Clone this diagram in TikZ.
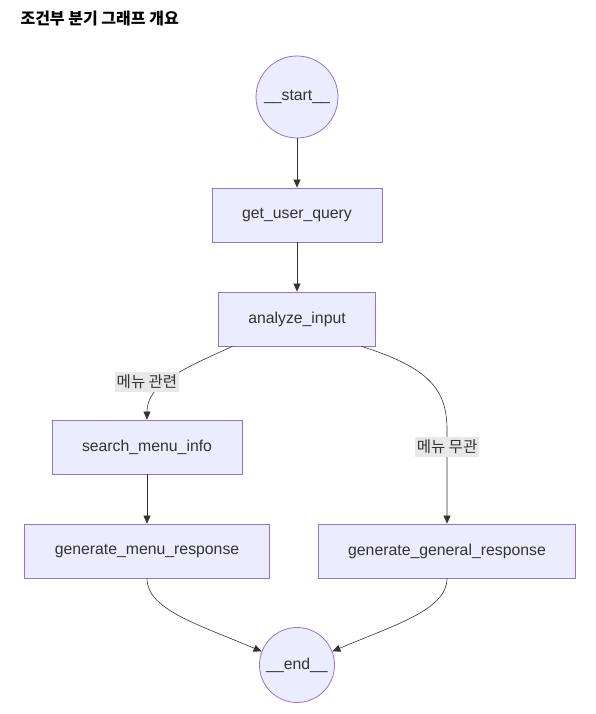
\documentclass[tikz,border=0pt]{standalone}
\usepackage{fontspec}
\setmainfont{Liberation Sans}
\newfontfamily\kr{Noto Sans CJK KR}
\usepackage{tikz}
\usetikzlibrary{arrows.meta}
\definecolor{nodefill}{HTML}{ECECFF}
\definecolor{nodeline}{HTML}{9370DB}
\definecolor{edgeline}{HTML}{333333}
\definecolor{labelbg}{HTML}{E8E8E8}

\begin{document}
\begin{tikzpicture}[x=1pt, y=-1pt, >={Triangle[length=8pt, width=7pt]},
    every node/.style={text=edgeline, font=\fontsize{15.8}{18}\selectfont},
    box/.style={draw=nodeline, fill=nodefill, thick, rectangle, minimum height=54pt, inner xsep=30pt},
    term/.style={draw=nodeline, fill=nodefill, thick, circle, inner sep=0pt},
    edge/.style={draw=edgeline, semithick, ->},
    edgelabel/.style={fill=labelbg, inner xsep=2pt, inner ysep=3pt, font=\kr\fontsize{15.5}{17}\selectfont}]
        \useasboundingbox (0, 0) rectangle (596, 714);
        \node[anchor=west, font=\kr\bfseries\fontsize{16}{18}\selectfont, text=black] (title) at (17, 19) {조건부 분기 그래프 개요};
        \node[term, minimum size=82pt] (start) at (297, 97) {\_\_start\_\_};
        \node[box] (query) at (297, 215) {get\_user\_query};
        \node[box] (analyze) at (297, 319) {analyze\_input};
        \node[box] (search) at (147, 447) {search\_menu\_info};
        \node[box] (menuresp) at (147, 551) {generate\_menu\_response};
        \node[box] (generalresp) at (447, 551) {generate\_general\_response};
        \node[term, minimum size=75pt] (end) at (297, 665) {\_\_end\_\_};
        \path[edge] (start) -- (query);
        \path[edge] (query) -- (analyze);
        \path[edge] (analyze.203) .. controls (180, 370) and (147, 385) .. (search.north);
        \path[edge] (analyze.-23) .. controls (430, 368) and (447, 390) .. (447, 430) -- (generalresp.north);
        \path[edge] (search) -- (menuresp);
        \path[edge] (menuresp.south) .. controls (147, 610) and (200, 625) .. (end.159);
        \path[edge] (generalresp.south) .. controls (447, 610) and (394, 625) .. (end.21);
        \node[edgelabel] (related) at (147, 382) {메뉴 관련};
        \node[edgelabel] (unrelated) at (447, 447) {메뉴 무관};
    \end{tikzpicture}
\end{document}
